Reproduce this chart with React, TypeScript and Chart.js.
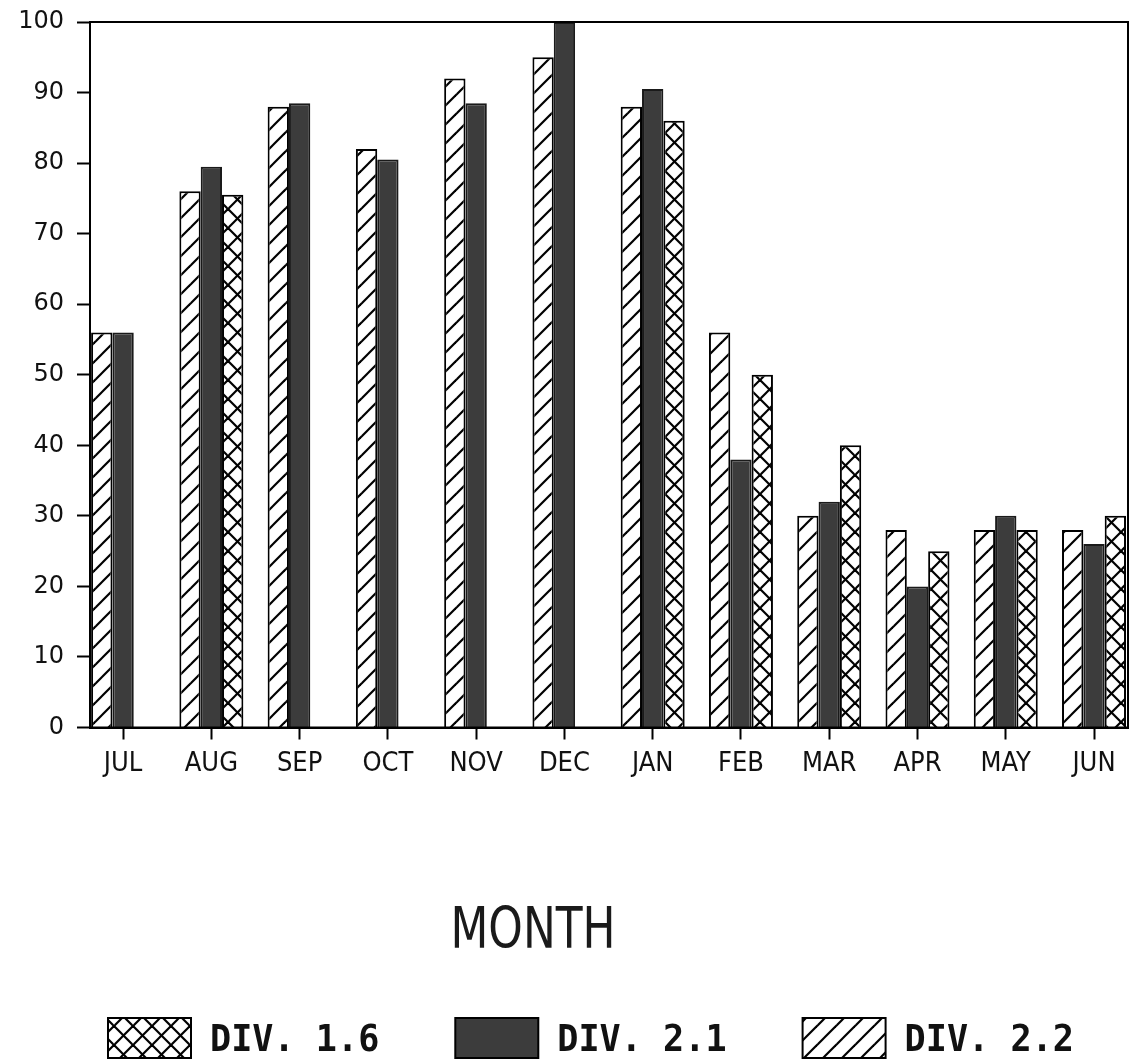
import React, { useEffect, useRef } from 'react';
import { Chart, registerables } from 'chart.js';

Chart.register(...registerables);

// ---- data ----
const MONTHS = ['JUL', 'AUG', 'SEP', 'OCT', 'NOV', 'DEC', 'JAN', 'FEB', 'MAR', 'APR', 'MAY', 'JUN'];
const DIV_2_2: (number | null)[] = [56, 76, 88, 82, 92, 95, 88, 56, 30, 28, 28, 28];
const DIV_2_1: (number | null)[] = [56, 79.5, 88.5, 80.5, 88.5, 100, 90.5, 38, 32, 20, 30, 26];
const DIV_1_6: (number | null)[] = [null, 75.5, null, null, null, null, 86, 50, 40, 25, 28, 30];
const SERIES_LABELS = ['DIV. 2.2', 'DIV. 2.1', 'DIV. 1.6'];
const Y_MIN = 0;
const Y_MAX = 100;
const Y_STEP = 10;
const X_TITLE = 'MONTH';

const W = 1132;
const H = 1063;
const NARROW = "'Liberation Sans Narrow', 'DejaVu Sans Condensed', 'DejaVu Sans', sans-serif";

function makePattern(size: number, cross: boolean): CanvasPattern | string {
  const c = document.createElement('canvas');
  c.width = size;
  c.height = size;
  const g = c.getContext('2d');
  if (!g) return '#fff';
  g.fillStyle = '#fff';
  g.fillRect(0, 0, size, size);
  g.strokeStyle = '#000';
  g.lineWidth = 2.2;
  const line = (x1: number, y1: number, x2: number, y2: number) => {
    g.beginPath();
    g.moveTo(x1, y1);
    g.lineTo(x2, y2);
    g.stroke();
  };
  line(-2, size + 2, size + 2, -2);
  line(-3, 3, 3, -3);
  line(size - 3, size + 3, size + 3, size - 3);
  if (cross) {
    line(-2, -2, size + 2, size + 2);
    line(size - 3, -3, size + 3, 3);
    line(-3, size - 3, 3, size + 3);
  }
  return g.createPattern(c, 'repeat') || '#fff';
}

const framePlugin = {
  id: 'frame',
  afterDatasetsDraw(chart: any) {
    const { ctx, chartArea } = chart;
    ctx.save();
    ctx.strokeStyle = '#000';
    ctx.lineWidth = 2;
    ctx.strokeRect(chartArea.left, chartArea.top, chartArea.right - chartArea.left, chartArea.bottom - chartArea.top);
    ctx.restore();
  },
};

// axis title drawn as text below the tick labels (placed as in the reference)
const xTitlePlugin = {
  id: 'xTitle',
  afterDraw(chart: any) {
    const { ctx } = chart;
    ctx.save();
    ctx.font = `56px ${NARROW}`;
    ctx.fillStyle = '#1a1a1a';
    ctx.textAlign = 'center';
    ctx.textBaseline = 'alphabetic';
    const cx = 533;
    ctx.translate(cx, 948);
    const tw = ctx.measureText(X_TITLE).width;
    ctx.scale(Math.min(1, 165 / tw), 1.02);
    ctx.fillText(X_TITLE, 0, 0);
    ctx.restore();
  },
};

const legendPlugin = {
  id: 'customLegend',
  afterDraw(chart: any) {
    const { ctx } = chart;
    const ds = chart.data.datasets.slice().reverse();
    const boxW = 83;
    const boxH = 40;
    const gap = 19;
    const spacing = 76;
    const top = 1018;
    const sx = 0.95;
    let x = 108;
    ctx.save();
    ctx.font = "bold 37px 'DejaVu Sans Mono', monospace";
    ctx.textBaseline = 'alphabetic';
    ctx.textAlign = 'left';
    for (const d of ds) {
      ctx.fillStyle = d.backgroundColor;
      ctx.fillRect(x, top, boxW, boxH);
      ctx.strokeStyle = '#000';
      ctx.lineWidth = 2;
      ctx.strokeRect(x, top, boxW, boxH);
      ctx.fillStyle = '#111';
      const tx = x + boxW + gap;
      ctx.save();
      ctx.translate(tx, top + 33);
      ctx.scale(sx, 1);
      ctx.fillText(d.label, 0, 0);
      ctx.restore();
      const tw = ctx.measureText(d.label).width * sx;
      x += boxW + gap + tw + spacing;
    }
    ctx.restore();
  },
};

export default function App() {
  const ref = useRef<HTMLCanvasElement>(null);

  useEffect(() => {
    if (!ref.current) return;
    const hatch = makePattern(19, false);
    const cross = makePattern(19, true);
    const toPts = (arr: (number | null)[]) => arr.map((v, i) => ({ x: i, y: v }));

    const chart = new Chart(ref.current, {
      type: 'bar',
      data: {
        datasets: [
          { label: SERIES_LABELS[0], data: toPts(DIV_2_2) as any, backgroundColor: hatch as any, borderColor: '#000', borderWidth: 2 },
          { label: SERIES_LABELS[1], data: toPts(DIV_2_1) as any, backgroundColor: '#3c3c3c', borderColor: '#1a1a1a', borderWidth: 2 },
          { label: SERIES_LABELS[2], data: toPts(DIV_1_6) as any, backgroundColor: cross as any, borderColor: '#000', borderWidth: 2 },
        ],
      },
      options: {
        responsive: false,
        animation: false,
        devicePixelRatio: 1,
        layout: { padding: { top: 22, right: 4, left: 0, bottom: 0 } },
        datasets: { bar: { categoryPercentage: 0.725, barPercentage: 1.0 } },
        plugins: { legend: { display: false }, tooltip: { enabled: false } },
        scales: {
          x: {
            type: 'linear',
            min: -0.375,
            max: 11.385,
            offset: false,
            afterBuildTicks: (s: any) => {
              s.ticks = MONTHS.map((_, i) => ({ value: i }));
            },
            afterFit: (s: any) => {
              s.height = H - 727.5;
              s.paddingLeft = 0;
              s.paddingRight = 0;
            },
            grid: {
              display: true,
              offset: false,
              drawOnChartArea: false,
              drawTicks: true,
              tickLength: 12,
              tickWidth: 2,
              tickColor: '#000',
              color: '#000',
            },
            border: { display: true, color: '#000', width: 2 },
            ticks: {
              autoSkip: false,
              maxRotation: 0,
              minRotation: 0,
              padding: 8,
              color: '#111',
              font: { family: NARROW, size: 27 },
              callback: (v: any) => MONTHS[v as number] ?? '',
            },
            title: { display: false, text: X_TITLE },
          } as any,
          y: {
            min: Y_MIN,
            max: Y_MAX,
            afterFit: (s: any) => {
              s.width = 90;
              s.paddingTop = 0;
              s.paddingBottom = 0;
            },
            grid: {
              display: true,
              drawOnChartArea: false,
              drawTicks: true,
              tickLength: 13,
              tickWidth: 2,
              tickColor: '#000',
            },
            border: { display: true, color: '#000', width: 2 },
            ticks: {
              stepSize: Y_STEP,
              padding: 13,
              color: '#111',
              font: { family: "'DejaVu Sans', sans-serif", size: 24 },
            },
          },
        },
      },
      plugins: [framePlugin, xTitlePlugin, legendPlugin],
    });
    return () => chart.destroy();
  }, []);

  return (
    <div style={{ position: 'absolute', left: 0, top: 0, width: W, height: H, background: '#fff' }}>
      <canvas ref={ref} width={W} height={H} style={{ display: 'block' }} />
    </div>
  );
}
